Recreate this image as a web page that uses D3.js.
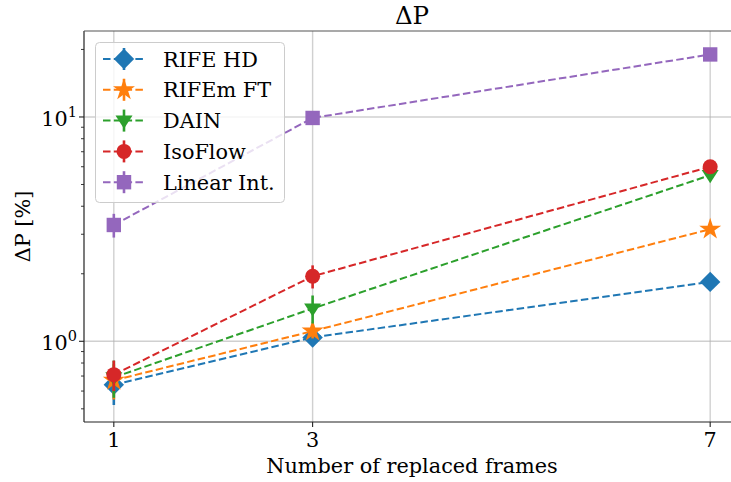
<!DOCTYPE html>
<html>
<head>
<meta charset="utf-8">
<script src="https://cdn.jsdelivr.net/npm/d3@7"></script>
<style>
  html, body { margin: 0; padding: 0; background: #fff; }
  svg { display: block; }
  text { font-family: "DejaVu Serif", serif; fill: #000; }
</style>
</head>
<body>
<svg id="chart" width="731" height="482"></svg>
<script>
// Number of replaced frames (x positions)
const frames = [1, 3, 7];
const xTickLabels = ["1", "3", "7"];
const yTickValues = [1, 10];
const yTickExponents = ["0", "1"];

// Series names, colours and markers
const seriesNames = ["RIFE HD", "RIFEm FT", "DAIN", "IsoFlow", "Linear Int."];
const seriesColors = ["#1f77b4", "#ff7f0e", "#2ca02c", "#d62728", "#9467bd"];
const seriesMarkers = ["diamond", "star", "triangleDown", "circle", "square"];

// ΔP [%] per series, with symmetric error
const rifeHD    = [0.64, 1.04, 1.84];
const rifeHDErr = [0.12, 0.05, 0.02];
const rifemFT    = [0.67, 1.11, 3.16];
const rifemFTErr = [0.12, 0.08, 0.05];
const dain    = [0.69, 1.40, 5.50];
const dainErr = [0.13, 0.20, 0.10];
const isoFlow    = [0.71, 1.95, 6.00];
const isoFlowErr = [0.11, 0.23, 0.10];
const linearInt    = [3.30, 9.90, 19.0];
const linearIntErr = [0.40, 0.30, 0.30];

const seriesValues = [rifeHD, rifemFT, dain, isoFlow, linearInt];
const seriesErrors = [rifeHDErr, rifemFTErr, dainErr, isoFlowErr, linearIntErr];

const FS = 20.8;
const svg = d3.select("#chart");
const margin = { left: 84, right: 740, top: 31, bottom: 422 };

const x = d3.scaleLinear().domain([0.7, 7.3]).range([margin.left, margin.right]);
const y = d3.scaleLog().domain([0.4367, 24.17]).range([margin.bottom, margin.top]);

const plot = svg.append("g");

// Grid lines at major ticks
plot.selectAll("line.vgrid").data(frames).join("line")
  .attr("x1", d => x(d)).attr("x2", d => x(d))
  .attr("y1", margin.top).attr("y2", margin.bottom)
  .attr("stroke", "#b0b0b0").attr("stroke-opacity", 0.6).attr("stroke-width", 1.4);
plot.selectAll("line.hgrid").data(yTickValues).join("line")
  .attr("x1", margin.left).attr("x2", margin.right)
  .attr("y1", d => y(d)).attr("y2", d => y(d))
  .attr("stroke", "#b0b0b0").attr("stroke-opacity", 0.6).attr("stroke-width", 1.4);

// Marker shapes
function markerPath(kind) {
  switch (kind) {
    case "diamond": { const r = 10.2; return `M0,${-r}L${r},0L0,${r}L${-r},0Z`; }
    case "star": return d3.symbol(d3.symbolStar, 150)();
    case "triangleDown": { const r = 8.5; return `M${-r},${-r*0.6}L${r},${-r*0.6}L0,${r*0.95}Z`; }
    case "circle": return d3.symbol(d3.symbolCircle, 177)();
    case "square": { const h = 7.2; return `M${-h},${-h}H${h}V${h}H${-h}Z`; }
  }
}

const line = d3.line().x((d, i) => x(frames[i])).y(d => y(d));

seriesValues.forEach((vals, s) => {
  const g = plot.append("g");
  const c = seriesColors[s];
  const errs = seriesErrors[s];
  // dashed connecting line
  g.append("path").datum(vals).attr("d", line)
    .attr("fill", "none").attr("stroke", c).attr("stroke-width", 2)
    .attr("stroke-dasharray", "7.5,3.3");
  // error bars
  g.selectAll("line.err").data(vals).join("line")
    .attr("x1", (d, i) => x(frames[i])).attr("x2", (d, i) => x(frames[i]))
    .attr("y1", (d, i) => y(d - errs[i])).attr("y2", (d, i) => y(d + errs[i]))
    .attr("stroke", c).attr("stroke-width", 2.6);
  // markers
  g.selectAll("path.mk").data(vals).join("path")
    .attr("d", markerPath(seriesMarkers[s]))
    .attr("transform", (d, i) => `translate(${x(frames[i])},${y(d)})`)
    .attr("fill", c);
});

// Spines
const axisColor = "#222";
svg.append("line").attr("x1", margin.left).attr("x2", margin.left)
  .attr("y1", margin.top).attr("y2", margin.bottom).attr("stroke", axisColor).attr("stroke-width", 1.2);
svg.append("line").attr("x1", margin.left).attr("x2", margin.right)
  .attr("y1", margin.bottom).attr("y2", margin.bottom).attr("stroke", axisColor).attr("stroke-width", 1.2);
svg.append("line").attr("x1", margin.left).attr("x2", margin.right)
  .attr("y1", margin.top).attr("y2", margin.top).attr("stroke", "#555").attr("stroke-width", 1.2);

// X ticks
svg.selectAll("line.xt").data(frames).join("line")
  .attr("x1", d => x(d)).attr("x2", d => x(d))
  .attr("y1", margin.bottom).attr("y2", margin.bottom + 5)
  .attr("stroke", axisColor).attr("stroke-width", 1.1);
svg.selectAll("text.xt").data(frames).join("text")
  .attr("x", d => x(d)).attr("y", 447)
  .attr("text-anchor", "middle").attr("font-size", FS)
  .text((d, i) => xTickLabels[i]);

// Y major ticks
svg.selectAll("line.yt").data(yTickValues).join("line")
  .attr("x1", margin.left - 5).attr("x2", margin.left)
  .attr("y1", d => y(d)).attr("y2", d => y(d))
  .attr("stroke", axisColor).attr("stroke-width", 1.1);
// Y minor ticks
const minor = [];
[0.1, 1, 10].forEach(base => { for (let k = 2; k <= 9; k++) minor.push(base * k); });
svg.selectAll("line.ym").data(minor.filter(v => v >= y.domain()[0] && v <= y.domain()[1])).join("line")
  .attr("x1", margin.left - 3).attr("x2", margin.left)
  .attr("y1", d => y(d)).attr("y2", d => y(d))
  .attr("stroke", axisColor).attr("stroke-width", 0.9);
// Y tick labels as 10^n
yTickValues.forEach((v, i) => {
  const t = svg.append("text")
    .attr("x", 77).attr("y", y(v) + 8.7)
    .attr("text-anchor", "end").attr("font-size", FS);
  t.append("tspan").text("10");
  t.append("tspan").attr("font-size", 14.5).attr("dy", -9).text(yTickExponents[i]);
});

// Axis labels and title
svg.append("text").attr("x", (margin.left + margin.right) / 2).attr("y", 473)
  .attr("text-anchor", "middle").attr("font-size", FS).text("Number of replaced frames");
svg.append("text").attr("transform", `translate(30,${(margin.top + margin.bottom) / 2}) rotate(-90)`)
  .attr("text-anchor", "middle").attr("font-size", FS).text("ΔP [%]");
svg.append("text").attr("x", (margin.left + margin.right) / 2).attr("y", 24)
  .attr("text-anchor", "middle").attr("font-size", 24.5).text("ΔP");

// Legend
const lg = svg.append("g");
lg.append("rect").attr("x", 95.5).attr("y", 42.5).attr("width", 189).attr("height", 160)
  .attr("rx", 4).attr("fill", "#fff").attr("fill-opacity", 0.8)
  .attr("stroke", "#cccccc").attr("stroke-width", 1);
seriesNames.forEach((name, s) => {
  const cy = 59 + s * 30.8;
  const c = seriesColors[s];
  lg.append("line").attr("x1", 103).attr("x2", 146).attr("y1", cy).attr("y2", cy)
    .attr("stroke", c).attr("stroke-width", 2).attr("stroke-dasharray", "7.5,3.3");
  lg.append("line").attr("x1", 124).attr("x2", 124).attr("y1", cy - 11).attr("y2", cy + 11)
    .attr("stroke", c).attr("stroke-width", 2.6);
  lg.append("path").attr("d", markerPath(seriesMarkers[s]))
    .attr("transform", `translate(124,${cy})`).attr("fill", c);
  lg.append("text").attr("x", 163).attr("y", cy + 7.5).attr("font-size", FS).text(name);
});
</script>
</body>
</html>
